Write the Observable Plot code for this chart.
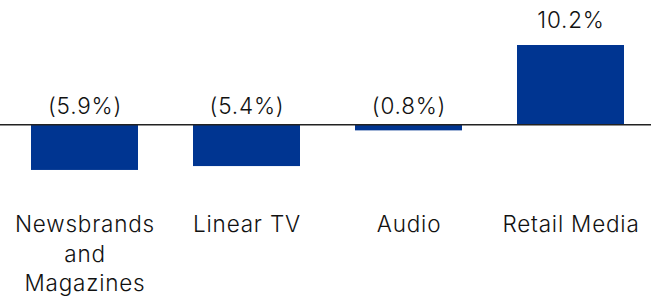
<!DOCTYPE html>
<html><head><meta charset="utf-8">
<script src="https://cdn.jsdelivr.net/npm/d3@7"></script>
<script src="https://cdn.jsdelivr.net/npm/@observablehq/plot@0.6"></script>
<style>
html,body{margin:0;padding:0;background:#fff;}
#chart svg{display:block;}
</style>
</head><body><div id="chart"></div>
<script>
const categories = ["Newsbrands and Magazines", "Linear TV", "Audio", "Retail Media"];
const tickLabels = ["Newsbrands\nand\nMagazines", "Linear TV", "Audio", "Retail Media"];
const values = [-5.9, -5.4, -0.8, 10.2];
const valueLabels = ["(5.9%)", "(5.4%)", "(0.8%)", "10.2%"];

const data = categories.map((c, i) => ({cat: c, tick: tickLabels[i], v: values[i], label: valueLabels[i]}));
const font = "Inter, 'DejaVu Sans', sans-serif";

const chart = Plot.plot({
  width: 651,
  height: 296,
  marginTop: 0,
  marginBottom: 102,
  marginLeft: 0,
  marginRight: 0,
  style: {fontFamily: font, background: "#fff", fontWeight: 300, letterSpacing: "0.8px"},
  x: {domain: categories, range: [3, 651], paddingInner: 0.34, paddingOuter: 0.17, axis: null},
  y: {domain: [-9, 16], axis: null},
  marks: [
    Plot.barY(data, {x: "cat", y: "v", fill: "#003591"}),
    Plot.ruleY([0], {stroke: "#222", strokeWidth: 1.5}),
    Plot.text(data.filter(d => d.v >= 0), {x: "cat", y: "v", text: "label", lineAnchor: "bottom", dy: -18, fontSize: 22.5, fill: "#111"}),
    Plot.text(data.filter(d => d.v < 0), {x: "cat", y: () => 0, text: "label", lineAnchor: "bottom", dy: -11, fontSize: 22.5, fill: "#111"}),
    Plot.text(data, {x: "cat", frameAnchor: "bottom", text: "tick", lineAnchor: "top", dy: 17, fontSize: 22.5, lineHeight: 1.3, fill: "#111"})
  ]
});
document.getElementById("chart").appendChild(chart);
</script>
</body></html>
